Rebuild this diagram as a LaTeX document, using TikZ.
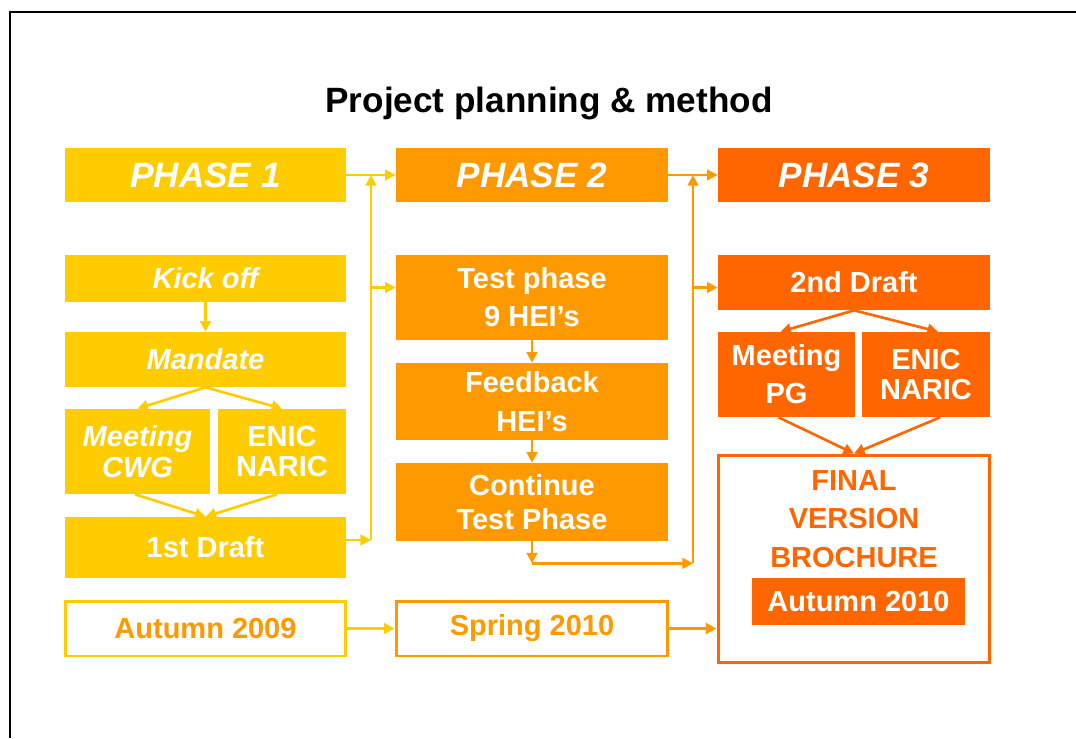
\documentclass[tikz,border=0pt]{standalone}
\usepackage{fontspec}
\setmainfont{Liberation Sans}
\usetikzlibrary{arrows.meta,calc}

\definecolor{phaseA}{HTML}{FFCC00}
\definecolor{phaseB}{HTML}{FF9900}
\definecolor{phaseC}{HTML}{FF6600}

\tikzset{
    box/.style={fill=#1, text=white, align=center, inner sep=0pt,
        font=\fontsize{16.5}{19}\selectfont\bfseries},
    phasebox/.style={box=#1, minimum height=1.08cm,
        font=\fontsize{20}{24}\selectfont\bfseries\itshape},
    datebox/.style={draw=#1, line width=1.7pt, text=phaseB, inner sep=0pt,
        minimum height=1.1cm, font=\fontsize{16.5}{19}\selectfont\bfseries},
    colA/.style={minimum width=5.62cm},
    colBC/.style={minimum width=5.44cm},
    flow/.style={draw=#1, line width=1.5pt, -{Triangle[length=6pt,width=6pt]}},
}

\begin{document}
\begin{tikzpicture}[x=0.02cm, y=-0.02cm]

    \useasboundingbox (0,0) rectangle (1076,738);

    % Frame
    \draw[line width=1.1pt] (10,738) -- (10,12) -- (1076,12);

    % Title
    \node[font=\fontsize{20}{24}\selectfont\bfseries] (title) at (549,103) {Project planning \& method};

    % Phase headers
    \node[phasebox=phaseA, colA] (p1) at (205.5,175) {PHASE 1};
    \node[phasebox=phaseB, colBC] (p2) at (532,175) {PHASE 2};
    \node[phasebox=phaseC, colBC] (p3) at (854,175) {PHASE 3};

    % Phase 1 steps
    \node[box=phaseA, colA, minimum height=0.94cm] (kick) at (205.5,278.5) {\itshape Kick off};
    \node[box=phaseA, colA, minimum height=1.1cm] (mandate) at (205.5,359.5) {\itshape Mandate};
    \node[box=phaseA, minimum width=2.9cm, minimum height=1.7cm] (cwg) at (137.5,451.5)
        {\itshape Meeting\\[-1.4pt]\itshape CWG};
    \node[box=phaseA, minimum width=2.56cm, minimum height=1.7cm] (enicA) at (282,451.5)
        {ENIC\\[-1.4pt]NARIC};
    \node[box=phaseA, colA, minimum height=1.22cm] (draftA) at (205.5,547.5) {1st Draft};

    % Phase 2 steps
    \node[box=phaseB, colBC, minimum height=1.7cm] (test) at (532,297.5) {Test phase\\[2.5pt]9 HEI’s};
    \node[box=phaseB, colBC, minimum height=1.54cm] (feed) at (532,401.5) {Feedback\\[3pt]HEI’s};
    \node[box=phaseB, colBC, minimum height=1.56cm] (cont) at (532,502) {Continue\\Test Phase};

    % Phase 3 steps
    \node[box=phaseC, colBC, minimum height=1.1cm] (draftB) at (854,282.5) {2nd Draft};
    \node[box=phaseC, minimum width=2.74cm, minimum height=1.7cm] (pg) at (786.5,374.5)
        {Meeting\\[2.5pt]PG};
    \node[box=phaseC, minimum width=2.56cm, minimum height=1.7cm] (enicC) at (926,374.5)
        {ENIC\\[-1.4pt]NARIC};
    \node[datebox=phaseC, colBC, minimum height=4.16cm] (final) at (854,559) {};
    \node[text=phaseC, align=center, font=\fontsize{16.5}{19}\selectfont\bfseries] (brochure)
        at (854,519) {FINAL\\[2.8pt]VERSION\\[2.8pt]BROCHURE};
    \node[box=phaseC, minimum width=4.26cm, minimum height=0.94cm] (autC) at (858.5,601.5) {Autumn 2010};

    % Dates
    \node[datebox=phaseA, colA] (autA) at (205.5,628.5) {Autumn 2009};
    \node[datebox=phaseB, colBC] (spring) at (532,628.5) {Spring 2010};

    % Bus lines between the columns
    \coordinate (busA) at ($(p1.east)!0.5!(p2.west)$);
    \coordinate (busB) at ($(p2.east)!0.5!(p3.west)$);
    \coordinate (turn) at ([yshift=-0.44cm]cont.south);

    % Phase 1 flow
    \draw[flow=phaseA] (p1.east) -- (p2.west);
    \draw[flow=phaseA] (kick) -- (mandate);
    \draw[flow=phaseA] (mandate.south) -- (cwg.north);
    \draw[flow=phaseA] (mandate.south) -- (enicA.north);
    \draw[flow=phaseA] ([xshift=-0.05cm]cwg.south) -- (draftA.north);
    \draw[flow=phaseA] ([xshift=-0.1cm]enicA.south) -- (draftA.north);
    \draw[flow=phaseA] ([yshift=0.15cm]draftA.east) -- ([yshift=0.15cm]draftA.east -| busA);
    \draw[flow=phaseA] ([yshift=0.15cm]draftA.east -| busA) -- (busA);
    \draw[flow=phaseA] ([yshift=0.2cm]test.west -| busA) -- ([yshift=0.2cm]test.west);
    \draw[flow=phaseA] (autA) -- (spring);

    % Phase 2 flow
    \draw[flow=phaseB] (p2.east) -- (p3.west);
    \draw[flow=phaseB] (test) -- (feed);
    \draw[flow=phaseB] (feed) -- (cont);
    \draw[flow=phaseB] (cont.south) -- (turn);
    \draw[flow=phaseB] (turn) -- (turn -| busB);
    \draw[flow=phaseB] (turn -| busB) -- (busB);
    \draw[flow=phaseB] ([yshift=-0.1cm]draftB.west -| busB) -- ([yshift=-0.1cm]draftB.west);
    \draw[flow=phaseB] (spring.east) -- (spring.east -| final.west);

    % Phase 3 flow
    \draw[flow=phaseC] (draftB.south) -- ([xshift=-0.12cm]pg.north);
    \draw[flow=phaseC] (draftB.south) -- ([xshift=0.24cm]enicC.north);
    \draw[flow=phaseC] ([xshift=-0.16cm]pg.south) -- (final.north);
    \draw[flow=phaseC] ([xshift=0.28cm]enicC.south) -- (final.north);

\end{tikzpicture}
\end{document}
